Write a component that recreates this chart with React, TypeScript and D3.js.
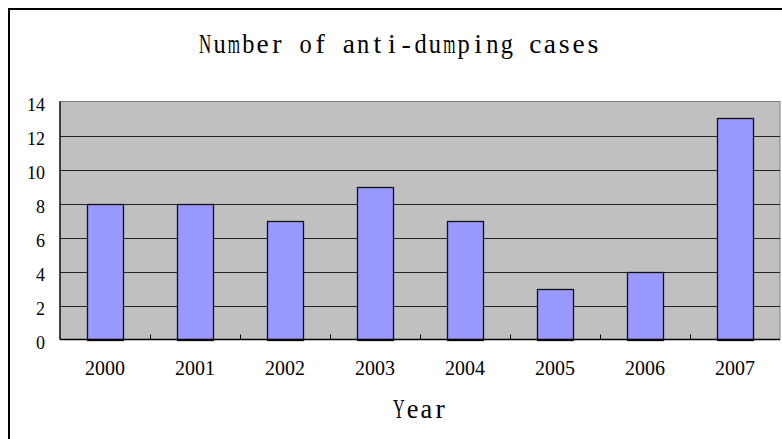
import React, { useEffect, useRef } from 'react';
import * as d3 from 'd3';

// chart data
const years = ['2000', '2001', '2002', '2003', '2004', '2005', '2006', '2007'];
const cases = [8, 8, 7, 9, 7, 3, 4, 13];
const yTicks = [0, 2, 4, 6, 8, 10, 12, 14];

const chartTitle = 'Number of anti-dumping cases';
const xTitle = 'Year';

// the original uses a fixed-pitch serif face; fake it by putting each glyph in its own cell
// and squeezing the wide ones (m, Y...) with a horizontal scale so they fit
function monoText(g: d3.Selection<any, any, any, any>, str: string, x0: number, y: number, pitch: number, size: number) {
  const grp = g.append('g');
  const maxW = pitch * 0.85;
  Array.from(str).forEach((ch, i) => {
    if (ch === ' ') return;
    const cx = x0 + pitch * (i + 0.5);
    const t = grp.append('text')
      .attr('x', 0).attr('y', 0)
      .attr('transform', `translate(${cx},${y})`)
      .attr('text-anchor', 'middle')
      .attr('font-family', '"Liberation Serif", serif').attr('font-size', size)
      .attr('fill', '#000')
      .text(ch);
    const w = (t.node() as SVGTextElement).getComputedTextLength();
    if (w > maxW) {
      t.attr('transform', `translate(${cx},${y}) scale(${(maxW / w).toFixed(3)},1)`);
    }
  });
}

export default function App() {
  const ref = useRef<SVGSVGElement>(null);

  useEffect(() => {
    const W = 782, H = 439;
    // plot area bounds
    const left = 60, right = 780, top = 101.5, bottom = 339.5;

    const svg = d3.select(ref.current);
    svg.selectAll('*').remove();

    svg.append('rect').attr('width', W).attr('height', H).attr('fill', '#fff');

    // outer chart frame (runs off the right/bottom of the picture)
    svg.append('rect')
      .attr('x', 9).attr('y', 9).attr('width', 900).attr('height', 600)
      .attr('fill', 'none').attr('stroke', '#000').attr('stroke-width', 2);

    const x = d3.scaleBand().domain(years).range([left, right]).paddingInner(0.6).paddingOuter(0.3);
    const y = d3.scaleLinear().domain([0, 14]).range([bottom, top]);

    // gray plot background
    svg.append('rect')
      .attr('x', left).attr('y', top)
      .attr('width', right - left).attr('height', bottom - top)
      .attr('fill', '#c0c0c0').attr('stroke', '#808080').attr('stroke-width', 1);

    // horizontal gridlines
    svg.append('g').selectAll('line')
      .data(yTicks.filter(d => d > 0 && d < 14))
      .join('line')
      .attr('x1', left).attr('x2', right)
      .attr('y1', d => Math.round(y(d)) + 0.5).attr('y2', d => Math.round(y(d)) + 0.5)
      .attr('stroke', '#222').attr('stroke-width', 1);

    // bars
    svg.append('g').selectAll('rect')
      .data(cases)
      .join('rect')
      .attr('x', (d, i) => Math.round(x(years[i])!) + 0.5)
      .attr('y', d => Math.round(y(d)) + 0.5)
      .attr('width', Math.round(x.bandwidth()))
      .attr('height', d => Math.round(y(0)) - Math.round(y(d)))
      .attr('fill', '#9999ff').attr('stroke', '#111').attr('stroke-width', 1.3);

    // axis lines
    svg.append('line')
      .attr('x1', left).attr('x2', left).attr('y1', top).attr('y2', bottom)
      .attr('stroke', '#000').attr('stroke-width', 1.3);
    svg.append('line')
      .attr('x1', left).attr('x2', right).attr('y1', bottom).attr('y2', bottom)
      .attr('stroke', '#000').attr('stroke-width', 1.3);

    // small inward ticks between categories
    const step = x.step();
    svg.append('g').selectAll('line')
      .data(years.slice(1))
      .join('line')
      .attr('x1', d => Math.round(x(d)! - step * 0.3) + 0.5)
      .attr('x2', d => Math.round(x(d)! - step * 0.3) + 0.5)
      .attr('y1', bottom).attr('y2', bottom - 5)
      .attr('stroke', '#000').attr('stroke-width', 1);

    // y tick labels
    svg.append('g').selectAll('text')
      .data(yTicks)
      .join('text')
      .attr('x', 45).attr('y', d => y(d) + 9.5)
      .attr('text-anchor', 'end')
      .attr('font-family', '"Liberation Serif", serif').attr('font-size', 18)
      .attr('fill', '#000')
      .text(d => d);

    // x tick labels
    svg.append('g').selectAll('text')
      .data(years)
      .join('text')
      .attr('x', d => x(d)! + x.bandwidth() / 2).attr('y', 375)
      .attr('text-anchor', 'middle')
      .attr('font-family', '"Liberation Serif", serif').attr('font-size', 20)
      .attr('fill', '#000')
      .text(d => d);

    // titles
    monoText(svg, chartTitle, 198, 53, 14.36, 28);
    monoText(svg, xTitle, 392, 418, 13.75, 28);
  }, []);

  return (
    <svg
      ref={ref}
      width={782}
      height={439}
      style={{ position: 'absolute', left: 0, top: 0, display: 'block' }}
    />
  );
}
